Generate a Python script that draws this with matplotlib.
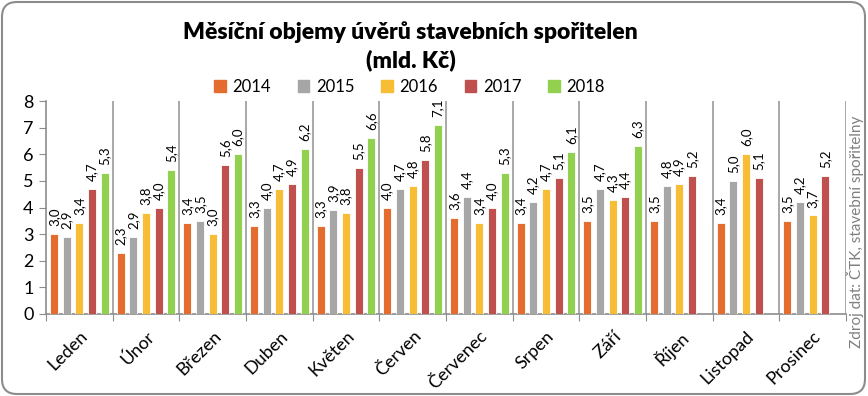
import matplotlib
matplotlib.use("Agg")
import matplotlib.pyplot as plt
import matplotlib.patches as mpatches
import numpy as np

plt.rcParams['font.family'] = ['Lato', 'DejaVu Sans']

months = ["Leden", "Únor", "Březen", "Duben", "Květen", "Červen", "Červenec",
          "Srpen", "Září", "Říjen", "Listopad", "Prosinec"]
years = ["2014", "2015", "2016", "2017", "2018"]
v2014 = [3.0, 2.3, 3.4, 3.3, 3.3, 4.0, 3.6, 3.4, 3.5, 3.5, 3.4, 3.5]
v2015 = [2.9, 2.9, 3.5, 4.0, 3.9, 4.7, 4.4, 4.2, 4.7, 4.8, 5.0, 4.2]
v2016 = [3.4, 3.8, 3.0, 4.7, 3.8, 4.8, 3.4, 4.7, 4.3, 4.9, 6.0, 3.7]
v2017 = [4.7, 4.0, 5.6, 4.9, 5.5, 5.8, 4.0, 5.1, 4.4, 5.2, 5.1, 5.2]
v2018 = [5.3, 5.4, 6.0, 6.2, 6.6, 7.1, 5.3, 6.1, 6.3, None, None, None]
series = [v2014, v2015, v2016, v2017, v2018]
colors = ["#E46C2F", "#A6A6A6", "#F7BE35", "#C0504D", "#92D050"]

fig = plt.figure(figsize=(8.68, 3.96), dpi=100)
ax = fig.add_axes([46/868, 1-314/396, 800/868, 213/396])

step = 0.189
width = 0.12
x = np.arange(len(months)) + 0.5
for j, (vals, col, yr) in enumerate(zip(series, colors, years)):
    xs = [xi + (j-2)*step for xi, v in zip(x, vals) if v is not None]
    vs = [v for v in vals if v is not None]
    ax.bar(xs, vs, width=width, color=col, edgecolor='white', linewidth=0.6, label=yr, zorder=3)
    for xi, v in zip(xs, vs):
        ax.text(xi, v + 0.3, f"{v:.1f}".replace('.', ','), rotation=90, ha='center', va='bottom',
                fontsize=9.5, color='black', zorder=4)

ax.set_xlim(0, 12)
ax.set_ylim(0, 8)
ax.set_yticks(range(0, 9))
ax.tick_params(axis='y', labelsize=13, length=5, color='#8c8c8c', pad=4)
ax.set_xticks(np.arange(0, 13), minor=False)
ax.set_xticklabels([])
ax.tick_params(axis='x', which='major', length=5, color='#8c8c8c', direction='out')
ax.set_xticks(x, minor=True)
ax.set_xticklabels(months, minor=True, rotation=45, ha='right', va='top', rotation_mode='anchor', fontsize=13)
ax.tick_params(axis='x', which='minor', length=0, pad=10)
for b in range(1, 13):
    ax.axvline(b, color='#9a9a9a', lw=1.2, zorder=1)
for s in ['top', 'right']:
    ax.spines[s].set_visible(False)
for s in ['left', 'bottom']:
    ax.spines[s].set_color('#8c8c8c')
    ax.spines[s].set_linewidth(1.2)

fig.text(0.473, 1-32/396, "Měsíční objemy úvěrů stavebních spořitelen", ha='center', va='center',
         fontsize=16.5, fontweight='heavy')
fig.text(0.473, 1-60/396, "(mld. Kč)", ha='center', va='center', fontsize=16.5, fontweight='heavy')

handles = [mpatches.Patch(color=c) for c in colors]
fig.legend(handles, years, loc='center', bbox_to_anchor=(0.472, 1-87/396), ncol=5, frameon=False,
           fontsize=12, handlelength=0.7, handleheight=0.7, handletextpad=0.4, columnspacing=1.6)

fig.text(855/868, 1-232/396, "Zdroj dat: ČTK, stavební spořitelny", rotation=90, ha='center', va='center',
         fontsize=11, color='#808080')

border = mpatches.FancyBboxPatch((0.02, 0.02), 8.63, 3.92, boxstyle="round,pad=0,rounding_size=0.15",
                                 transform=fig.dpi_scale_trans, fill=False, edgecolor='#8c8c8c', lw=1.5)
fig.patches.append(border)

fig.savefig("out.png", dpi=100)
